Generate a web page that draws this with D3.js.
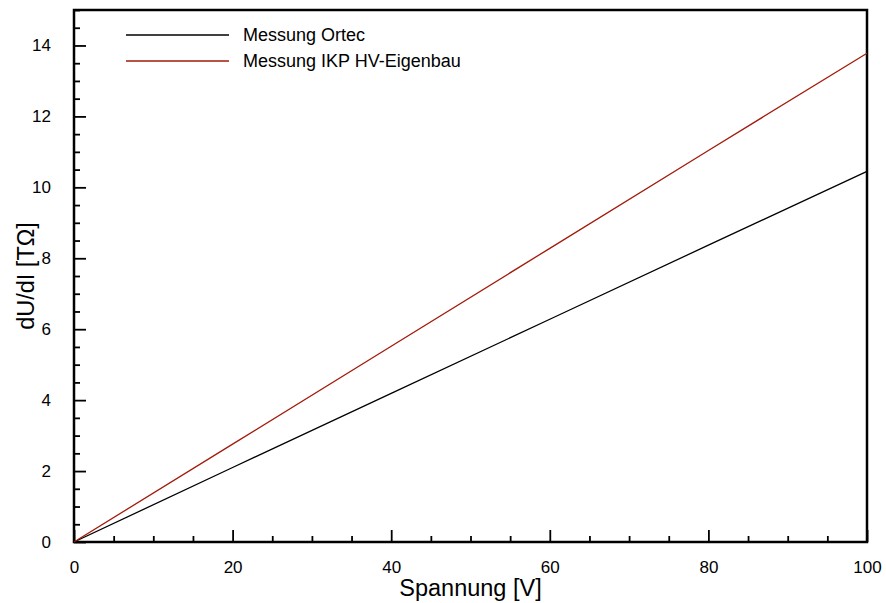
<!DOCTYPE html>
<html>
<head>
<meta charset="utf-8">
<script src="https://cdn.jsdelivr.net/npm/d3@7"></script>
<style>
  body { margin: 0; background: #fff; }
  text { font-family: "Liberation Sans", Arial, sans-serif; fill: #000; }
</style>
</head>
<body>
<div id="chart"></div>
<script>
// Werte
var spannung = [0, 20, 40, 60, 80, 100];
var ortec = [0, 2.1, 4.19, 6.28, 8.37, 10.45];
var eigenbau = [0, 2.76, 5.52, 8.28, 11.04, 13.78];
var serien = ["Messung Ortec", "Messung IKP HV-Eigenbau"];
var farben = ["#000000", "#a31a0a"];
var xTicks = [0, 20, 40, 60, 80, 100];
var yTicks = [0, 2, 4, 6, 8, 10, 12, 14];

(function() {
  var width = 886, height = 603;
  var margin = {left: 74, right: 19, top: 10, bottom: 61};

  var svg = d3.select("#chart").append("svg")
              .attr("width", width)
              .attr("height", height);

  var x = d3.scaleLinear().domain([0, 100]).range([margin.left, width - margin.right]);
  var y = d3.scaleLinear().domain([0, 15]).range([height - margin.bottom, margin.top]);

  // minor ticks
  var xMinor = d3.range(0, 101, 5).filter(function(d){ return d % 20 !== 0; });
  var yMinor = d3.range(0, 15.01, 0.5).filter(function(d){ return d % 2 !== 0; });

  svg.append("g")
      .attr("transform", "translate(0," + y(0) + ")")
      .call(d3.axisBottom(x).tickValues(xTicks).tickSize(-12).tickPadding(19).tickFormat(d3.format("d")));
  svg.append("g")
      .attr("transform", "translate(0," + y(0) + ")")
      .call(d3.axisBottom(x).tickValues(xMinor).tickSize(-6).tickFormat(""));

  svg.append("g")
      .attr("transform", "translate(" + x(0) + ",0)")
      .call(d3.axisLeft(y).tickValues(yTicks).tickSize(-12).tickPadding(23).tickFormat(d3.format("d")));
  svg.append("g")
      .attr("transform", "translate(" + x(0) + ",0)")
      .call(d3.axisLeft(y).tickValues(yMinor).tickSize(-6).tickFormat(""));

  svg.selectAll(".domain").remove();
  svg.selectAll(".tick line").attr("stroke", "#000").attr("stroke-width", 1.8);
  svg.selectAll(".tick text").style("font-size", "17px");

  // Rahmen
  svg.append("rect")
      .attr("x", x(0)).attr("y", y(15))
      .attr("width", x(100) - x(0)).attr("height", y(0) - y(15))
      .attr("fill", "none").attr("stroke", "#000").attr("stroke-width", 2.5);

  var line = d3.line()
      .x(function(d){ return x(d[0]); })
      .y(function(d){ return y(d[1]); });

  [ortec, eigenbau].forEach(function(werte, i) {
    svg.append("path")
        .datum(spannung.map(function(s, j){ return [s, werte[j]]; }))
        .attr("d", line)
        .attr("fill", "none")
        .attr("stroke", farben[i])
        .attr("stroke-width", 1.3);
  });

  // Legende
  var legend = svg.append("g");
  serien.forEach(function(name, i) {
    var ly = 35 + i * 26;
    legend.append("line")
        .attr("x1", 126).attr("x2", 229)
        .attr("y1", ly).attr("y2", ly)
        .attr("stroke", farben[i]).attr("stroke-width", 1.3);
    legend.append("text")
        .attr("x", 243).attr("y", ly + 6)
        .style("font-size", "18px")
        .text(name);
  });

  // Achsentitel
  svg.append("text")
      .attr("x", (x(0) + x(100)) / 2).attr("y", 596)
      .attr("text-anchor", "middle")
      .style("font-size", "23.5px")
      .text("Spannung [V]");

  svg.append("text")
      .attr("transform", "translate(34," + ((y(0) + y(15)) / 2) + ") rotate(-90)")
      .attr("text-anchor", "middle")
      .style("font-size", "23.5px")
      .text("dU/dI [TΩ]");
})();
</script>
</body>
</html>
